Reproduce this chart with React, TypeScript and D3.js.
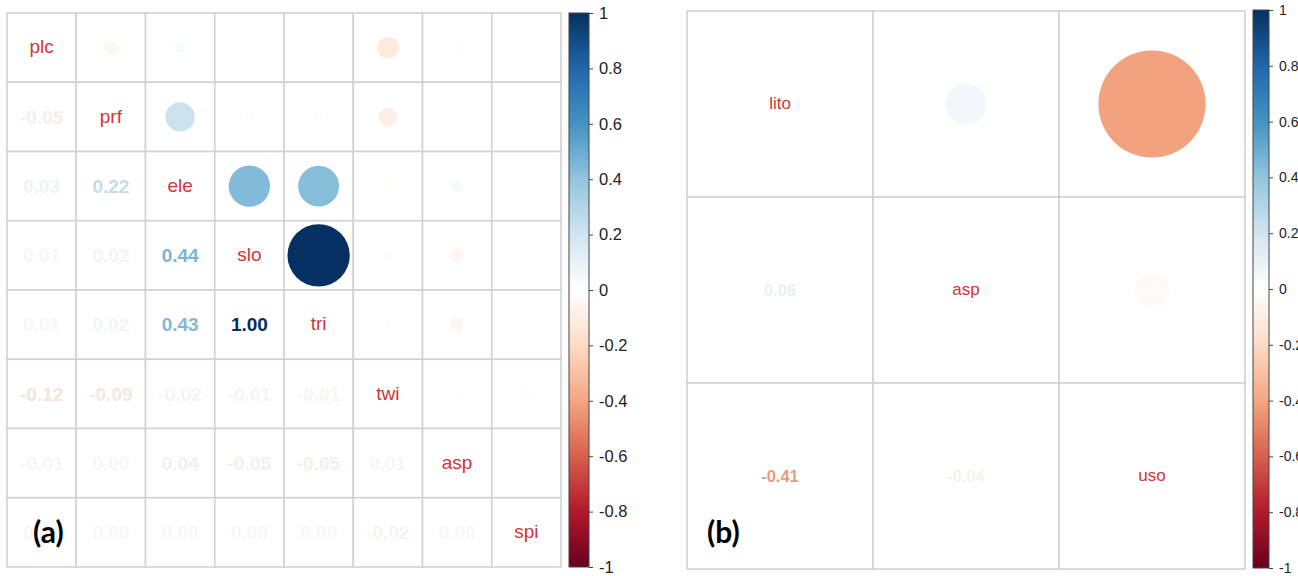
import React, { useEffect, useRef } from "react";
import * as d3 from "d3";

// panel (a): terrain variables
const varsA = ["plc", "prf", "ele", "slo", "tri", "twi", "asp", "spi"];
const corrA = [
  [1, -0.05, 0.03, 0.01, 0.01, -0.12, -0.01, 0.0],
  [-0.05, 1, 0.22, 0.02, 0.02, -0.09, 0.0, 0.0],
  [0.03, 0.22, 1, 0.44, 0.43, -0.02, 0.04, 0.0],
  [0.01, 0.02, 0.44, 1, 1.0, -0.01, -0.05, 0.0],
  [0.01, 0.02, 0.43, 1.0, 1, -0.01, -0.05, 0.0],
  [-0.12, -0.09, -0.02, -0.01, -0.01, 1, 0.01, -0.02],
  [-0.01, 0.0, 0.04, -0.05, -0.05, 0.01, 1, 0.0],
  [0.0, 0.0, 0.0, 0.0, 0.0, -0.02, 0.0, 1],
];

// panel (b): categorical variables
const varsB = ["lito", "asp", "uso"];
const corrB = [
  [1, 0.06, -0.41],
  [0.06, 1, -0.04],
  [-0.41, -0.04, 1],
];

const barTicks = [1, 0.8, 0.6, 0.4, 0.2, 0, -0.2, -0.4, -0.6, -0.8, -1];

// corrplot COL2("RdBu")
const rdbu = [
  "#67001F", "#B2182B", "#D6604D", "#F4A582", "#FDDBC7", "#FFFFFF",
  "#D1E5F0", "#92C5DE", "#4393C3", "#2166AC", "#053061",
];
const color = d3
  .scaleLinear<string>()
  .domain(rdbu.map((_, i) => -1 + i * 0.2))
  .range(rdbu)
  .interpolate(d3.interpolateRgb);

const panelA = {
  id: "a", x: 7, y: 13, size: 554,
  labelSize: 19, numSize: 19,
  barX: 569, barW: 20, barY0: 13, barY1: 567, tickSize: 16.5,
  tagX: 33, tagY: 543,
};
const panelB = {
  id: "b", x: 687, y: 11, size: 558,
  labelSize: 17, numSize: 16.5,
  barX: 1253, barW: 16, barY0: 10, barY1: 568, tickSize: 14,
  tagX: 707, tagY: 543,
};

const drawPanel = (svg, vars, corr, opt) => {
  const band = d3.scaleBand().domain(vars).range([0, opt.size]);
  const cell = band.bandwidth();
  const g = svg.append("g").attr("transform", `translate(${opt.x},${opt.y})`);

  const cells = [];
  vars.forEach((row, i) =>
    vars.forEach((col, j) => cells.push({ row, col, i, j, r: corr[i][j] }))
  );

  g.selectAll("rect.cell")
    .data(cells)
    .join("rect")
    .attr("class", "cell")
    .attr("x", d => band(d.col))
    .attr("y", d => band(d.row))
    .attr("width", cell)
    .attr("height", cell)
    .attr("fill", "white")
    .attr("stroke", "#d2d2d2")
    .attr("stroke-width", 1.6);

  const cx = d => band(d.col) + cell / 2;
  const cy = d => band(d.row) + cell / 2;

  // upper triangle: circles, area ~ |r|
  g.selectAll("circle")
    .data(cells.filter(d => d.j > d.i))
    .join("circle")
    .attr("cx", cx)
    .attr("cy", cy)
    .attr("r", d => 0.45 * Math.sqrt(Math.abs(d.r)) * cell)
    .attr("fill", d => color(d.r));

  // lower triangle: coefficients
  g.selectAll("text.num")
    .data(cells.filter(d => d.j < d.i))
    .join("text")
    .attr("class", "num")
    .attr("x", cx)
    .attr("y", cy)
    .attr("dy", "0.36em")
    .attr("text-anchor", "middle")
    .attr("font-family", "Liberation Sans, Arial, sans-serif")
    .attr("font-weight", "bold")
    .attr("font-size", opt.numSize)
    .attr("fill", d => d3.color(color(d.r)).darker(0.09).formatHex())
    .text(d => d.r.toFixed(2));

  // diagonal: variable names
  g.selectAll("text.lab")
    .data(cells.filter(d => d.j === d.i))
    .join("text")
    .attr("class", "lab")
    .attr("x", cx)
    .attr("y", cy)
    .attr("dy", "0.3em")
    .attr("text-anchor", "middle")
    .attr("font-family", "Liberation Sans, Arial, sans-serif")
    .attr("font-size", opt.labelSize)
    .attr("fill", "#d33434")
    .text(d => d.row);

  // colour legend
  const yBar = d3.scaleLinear().domain([1, -1]).range([opt.barY0, opt.barY1]);
  const grad = svg
    .append("defs")
    .append("linearGradient")
    .attr("id", `bar-${opt.id}`)
    .attr("x1", 0).attr("y1", 0).attr("x2", 0).attr("y2", 1);
  grad
    .selectAll("stop")
    .data(barTicks)
    .join("stop")
    .attr("offset", d => (1 - d) / 2)
    .attr("stop-color", d => color(d));

  svg
    .append("rect")
    .attr("x", opt.barX)
    .attr("y", opt.barY0)
    .attr("width", opt.barW)
    .attr("height", opt.barY1 - opt.barY0)
    .attr("fill", `url(#bar-${opt.id})`)
    .attr("stroke", "#444")
    .attr("stroke-width", 1);

  const axis = svg
    .append("g")
    .attr("transform", `translate(${opt.barX + opt.barW},0)`)
    .call(
      d3.axisRight(yBar)
        .tickValues(barTicks)
        .tickSize(4)
        .tickPadding(6)
        .tickFormat(d => String(d))
    );
  axis.select(".domain").remove();
  axis.selectAll(".tick line").attr("stroke", "#444");
  axis
    .selectAll(".tick text")
    .attr("font-family", "Liberation Sans, Arial, sans-serif")
    .attr("font-size", opt.tickSize)
    .attr("fill", "#222");

  // panel tag
  svg
    .append("text")
    .attr("x", opt.tagX)
    .attr("y", opt.tagY)
    .attr("font-family", "Lato, Open Sans, sans-serif")
    .attr("font-weight", "bold")
    .attr("font-size", 30)
    .attr("fill", "#000")
    .text(`(${opt.id})`);
};

const App = () => {
  const ref = useRef(null);

  useEffect(() => {
    const svg = d3.select(ref.current);
    svg.selectAll("*").remove();
    drawPanel(svg, varsA, corrA, panelA);
    drawPanel(svg, varsB, corrB, panelB);
  }, []);

  return (
    <svg
      ref={ref}
      width={1298}
      height={576}
      style={{ position: "absolute", left: 0, top: 0, background: "white" }}
    />
  );
};

export default App;
